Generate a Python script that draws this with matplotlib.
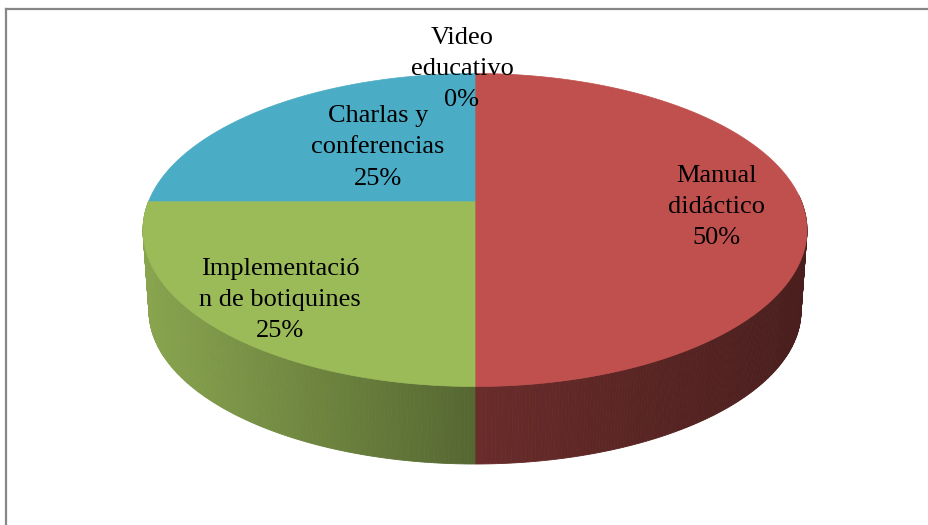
import numpy as np
import matplotlib
matplotlib.use('Agg')
import matplotlib.pyplot as plt
from matplotlib.patches import Polygon
from matplotlib.lines import Line2D
from matplotlib.colors import to_rgb

# data
labels = ['Manual\ndidáctico', 'Implementació\nn de botiquines', 'Charlas y\nconferencias', 'Video\neducativo']
values = [50, 25, 25, 0]
colors = ['#C0504D', '#9BBB59', '#4BACC6', '#8064A2']

# label placement (fraction of radius along the mid angle, pixel nudge)
label_radius = [0.74, 0.74, 0.48, 1.06]
label_nudge = [(0, 6), (0, 7), (0, -8), (-13, 3)]

# pie geometry in pixels (3d look)
cx, py = 475, 201
a, b = 332, 156.5
cy_e = 230
h = (py - cy_e) / b
a_b, b_b = 326, 153
py_b = 464 - (1 - h) * b_b


def edge(t, pc, ra, rb):
    # point on the rim for angle t (degrees, clockwise from 12 o'clock)
    t = np.radians(t)
    s = h * np.cos(t) + np.sqrt(h * h * np.cos(t) ** 2 - h * h + 1)
    return cx + s * ra * np.sin(t), pc - s * rb * np.cos(t)


def main():
    fig = plt.figure(figsize=(9.29, 5.25), dpi=100)
    ax = fig.add_axes([0, 0, 1, 1])
    ax.set_xlim(0, 929)
    ax.set_ylim(525, 0)
    ax.axis('off')

    total = float(sum(values))
    starts = np.cumsum([0] + values[:-1]) / total * 360
    ends = np.cumsum(values) / total * 360

    # side wall, drawn first
    for st, en, col in zip(starts, ends, colors):
        lo, hi = max(st, 88), min(en, 270)
        if hi <= lo:
            continue
        ts = np.linspace(lo, hi, int((hi - lo) * 2) + 2)
        base = np.array(to_rgb(col))
        for t0, t1 in zip(ts[:-1], ts[1:]):
            x0, y0 = edge(t0, py, a, b)
            x1, y1 = edge(t1, py, a, b)
            x2, y2 = edge(t1, py_b, a_b, b_b)
            x3, y3 = edge(t0, py_b, a_b, b_b)
            k = np.interp((x0 + x1) / 2, [143, 475, 807], [0.88, 0.55, 0.38])
            c = np.clip(base * k, 0, 1)
            ax.add_patch(Polygon([(x0, y0), (x1, y1), (x2, y2), (x3, y3)],
                                 closed=True, fc=c, ec=c, lw=0.6))

    # top face
    for st, en, col in zip(starts, ends, colors):
        if en - st <= 0:
            continue
        ts = np.linspace(st, en, 200)
        xs, ys = edge(ts, py, a, b)
        pts = [(cx, py)] + list(zip(xs, ys))
        ax.add_patch(Polygon(pts, closed=True, fc=col, ec=col, lw=0.5))

    # labels
    for lab, v, st, en, fr, nd in zip(labels, values, starts, ends, label_radius, label_nudge):
        mid = np.radians((st + en) / 2)
        s = h * np.cos(mid) + np.sqrt(h * h * np.cos(mid) ** 2 - h * h + 1)
        x = cx + fr * s * a * np.sin(mid) + nd[0]
        y = py - fr * s * b * np.cos(mid) + nd[1]
        ax.text(x, y, '%s\n%d%%' % (lab, round(v / total * 100)),
                ha='center', va='center', fontsize=19, family='Liberation Serif',
                linespacing=1.55, color='black')

    # chart frame (only top and left edges visible)
    fig.add_artist(Line2D([6.5 / 929, 1], [1 - 8.5 / 525, 1 - 8.5 / 525], color='#878787', lw=1.6))
    fig.add_artist(Line2D([6.5 / 929, 6.5 / 929], [0, 1 - 8.5 / 525], color='#878787', lw=1.6))

    fig.savefig('out.png', dpi=100)
    plt.close(fig)


if __name__ == '__main__':
    main()
